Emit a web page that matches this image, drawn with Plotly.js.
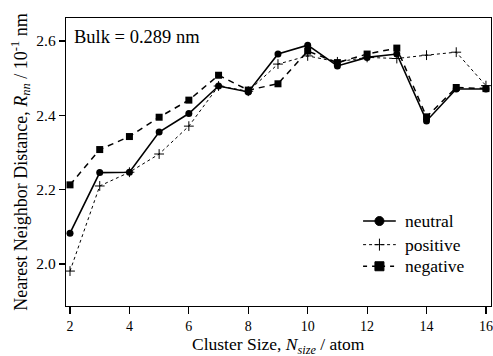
<!DOCTYPE html>
<html>
<head>
<meta charset="utf-8">
<script src="https://cdn.plot.ly/plotly-3.0.1.min.js"></script>
<style>html,body{margin:0;padding:0;background:#fff;}#chart{width:493px;height:356px;}</style>
</head>
<body>
<div id="chart"></div>
<script>
const clusterSize = [2,3,4,5,6,7,8,9,10,11,12,13,14,15,16];
const neutral  = [2.083,2.246,2.247,2.355,2.405,2.479,2.463,2.565,2.589,2.533,2.556,2.565,2.385,2.471,2.471];
const positive = [1.981,2.210,2.247,2.296,2.371,2.479,2.465,2.538,2.560,2.544,2.556,2.553,2.562,2.570,2.480];
const negative = [2.213,2.308,2.343,2.395,2.441,2.508,2.468,2.485,2.573,2.542,2.565,2.581,2.396,2.475,2.472];
const seriesNames = ['neutral', 'positive', 'negative'];
const xTicks = [2,4,6,8,10,12,14,16];
const yTicks = [2.0,2.2,2.4,2.6];
const xTitle = 'Cluster Size, <i>N</i><sub><i>size</i></sub> / atom';
const yTitle = 'Nearest Neighbor Distance, <i>R</i><sub><i>nn</i></sub> / 10<sup>-1</sup> nm';

const font = {family: 'Liberation Serif, Times New Roman, serif', color: '#000'};
const f = s => Object.assign({size: s}, font);

const styles = [
  {line: {color: '#000', width: 1.6, dash: 'solid'}, marker: {symbol: 'circle', size: 7, color: '#000'}},
  {line: {color: '#000', width: 1, dash: 'dot'}, marker: {symbol: 'cross-thin', size: 7, color: '#000', line: {color: '#000', width: 1}}},
  {line: {color: '#000', width: 1.5, dash: '6px,5px'}, marker: {symbol: 'square', size: 7, color: '#000'}}
];
const data = [neutral, positive, negative];

const traces = data.map((ys, i) => Object.assign({
  x: clusterSize, y: ys, name: seriesNames[i], mode: 'lines+markers', showlegend: false
}, styles[i]));

// Custom legend (paper coordinates) to match the compact original spacing
const legRowsY = [0.295, 0.213, 0.138];
const legX0 = 0.699, legX1 = 0.776, legXm = 0.7375, legText = 0.792;
const shapes = [];
const annotations = [
  {text: 'Bulk = 0.289 nm', xref: 'paper', yref: 'paper', x: 0.015, y: 0.975,
   xanchor: 'left', yanchor: 'top', showarrow: false, font: f(18.5)},
  {text: xTitle, xref: 'paper', yref: 'paper', x: 0.5, y: 0, yshift: -26,
   xanchor: 'center', yanchor: 'top', showarrow: false, font: f(17.5)}
];
legRowsY.forEach((ly, i) => {
  const st = styles[i];
  shapes.push({type: 'line', xref: 'paper', yref: 'paper', x0: legX0, x1: legX1, y0: ly, y1: ly,
               line: {color: '#000', width: st.line.width, dash: i === 2 ? '4px,5px' : st.line.dash}});
  const common = {xref: 'paper', yref: 'paper', xsizemode: 'pixel', ysizemode: 'pixel', xanchor: legXm, yanchor: ly};
  if (i === 0) {
    shapes.push(Object.assign({type: 'circle', x0: -4.5, x1: 4.5, y0: -4.5, y1: 4.5, fillcolor: '#000', line: {color: '#000', width: 1}}, common));
  } else if (i === 1) {
    shapes.push(Object.assign({type: 'line', x0: -5, x1: 5, y0: 0, y1: 0, line: {color: '#000', width: 1}}, common));
    shapes.push(Object.assign({type: 'line', x0: 0, x1: 0, y0: -6, y1: 6, line: {color: '#000', width: 1}}, common));
  } else {
    shapes.push(Object.assign({type: 'rect', x0: -4.5, x1: 4.5, y0: -4.5, y1: 4.5, fillcolor: '#000', line: {color: '#000', width: 1}}, common));
  }
  annotations.push({text: seriesNames[i], xref: 'paper', yref: 'paper', x: legText, y: ly,
                    xanchor: 'left', yanchor: 'middle', showarrow: false, font: f(17.5)});
});

const layout = {
  width: 493, height: 356,
  margin: {l: 66, r: 2, t: 18, b: 50},
  paper_bgcolor: '#fff', plot_bgcolor: '#fff',
  font: f(14),
  showlegend: false,
  xaxis: {range: [1.865, 16.17], tickvals: xTicks, ticktext: xTicks.map(String),
          ticks: 'outside', ticklen: 7, tickwidth: 1.2, tickcolor: '#000',
          showline: true, linecolor: '#000', linewidth: 1.2, mirror: true,
          showgrid: false, zeroline: false, ticklabeloverflow: 'allow',
          tickfont: f(14)},
  yaxis: {range: [1.887, 2.662], tickvals: yTicks, ticktext: yTicks.map(v => v.toFixed(1)),
          ticks: 'outside', ticklen: 6, tickwidth: 1.2, tickcolor: '#000',
          showline: true, linecolor: '#000', linewidth: 1.2, mirror: true,
          showgrid: false, zeroline: false, ticklabeloverflow: 'allow',
          tickfont: f(15.5),
          title: {text: yTitle, font: f(18), standoff: 4}},
  shapes: shapes,
  annotations: annotations
};

Plotly.newPlot('chart', traces, layout, {displayModeBar: false, staticPlot: true});
</script>
</body>
</html>
